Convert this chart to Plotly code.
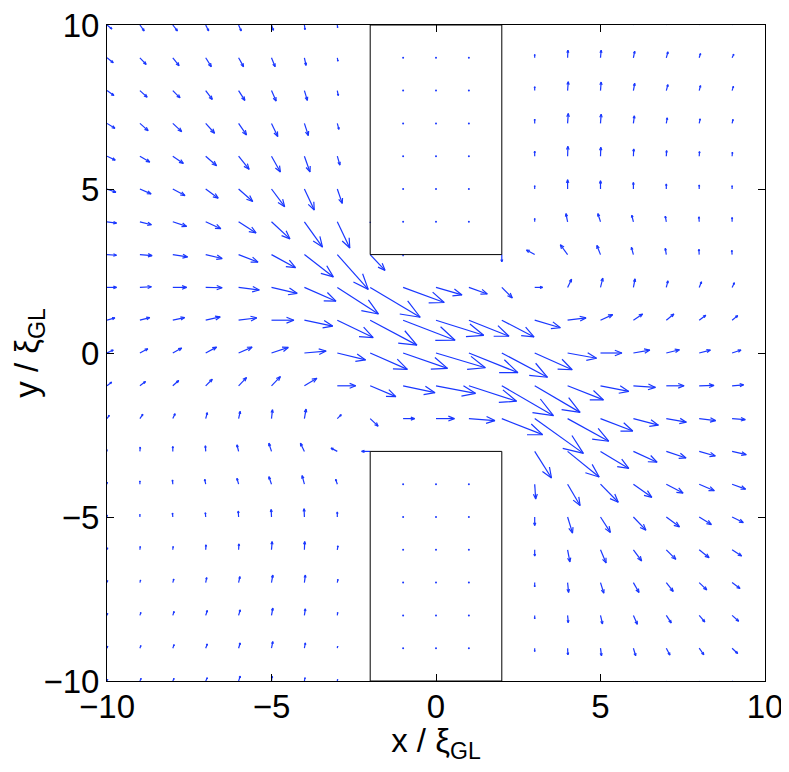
import plotly.graph_objects as go

# grid
X_VALUES = list(range(-10, 10))          # -10 .. 9
Y_VALUES = list(range(10, -11, -1))      # 10 .. -10 (rows, top to bottom)

# vector components, one row per y value (top to bottom), columns x=-10..9
U_ROWS = [
    [.15, .13, .14, .09, .08, .06, .02, .01, 0, 0, 0, 0, 0, 0, .01, .02, .04, .05, .04, .05],
    [.19, .19, .19, .17, .15, .11, .05, .02, 0, 0, 0, 0, 0, 0, .01, .02, .04, .05, .04, .05],
    [.21, .22, .22, .20, .19, .14, .09, .03, 0, 0, 0, 0, 0, 0, .02, .02, .04, .05, .04, .04],
    [.24, .25, .27, .27, .24, .19, .12, .05, 0, 0, 0, 0, 0, 0, .02, .02, .03, .03, .03, .03],
    [.25, .30, .32, .33, .32, .27, .17, .08, 0, 0, 0, 0, 0, 0, .01, .01, .01, .01, .01, .01],
    [.27, .34, .37, .38, .43, .40, .30, .15, 0, 0, 0, 0, 0, 0, 0, 0, 0, 0, 0, 0],
    [.29, .35, .42, .46, .53, .56, .55, .38, 0, 0, 0, 0, 0, 0, -.05, -.08, -.05, -.03, -.01, 0],
    [.29, .37, .45, .50, .59, .73, .88, .94, .45, 0, 0, 0, 0, -.25, -.22, -.11, -.06, -.03, -.01, -.01],
    [.29, .35, .42, .50, .63, .78, .96, 1.25, 1.52, 1.25, .79, .56, .32, .24, .12, .07, .05, .05, .07, .07],
    [.24, .30, .36, .44, .55, .68, .86, 1.09, 1.42, 1.58, 1.45, 1.22, .98, .78, .56, .37, .28, .23, .20, .17],
    [.19, .24, .27, .33, .41, .51, .66, .86, 1.13, 1.35, 1.50, 1.49, 1.39, 1.14, .88, .65, .50, .40, .34, .27],
    [.14, .17, .18, .20, .24, .27, .38, .56, .78, .97, 1.20, 1.45, 1.57, 1.38, 1.09, .86, .67, .54, .45, .35],
    [.07, .09, .07, .05, .05, .03, .05, .12, .24, .35, .56, .79, 1.24, 1.48, 1.25, .98, .76, .61, .50, .40],
    [0, .01, 0, -.01, -.05, -.08, -.12, -.19, -.26, 0, 0, 0, 0, .51, .96, .86, .72, .60, .49, .43],
    [.01, 0, -.01, -.03, -.05, -.08, -.07, -.05, 0, 0, 0, 0, 0, .03, .38, .54, .56, .51, .46, .41],
    [.01, 0, -.01, -.01, -.01, -.01, -.01, 0, 0, 0, 0, 0, 0, 0, .15, .30, .38, .40, .37, .34],
    [.02, .01, .01, .01, .01, .02, .01, .02, 0, 0, 0, 0, 0, 0, .07, .17, .25, .29, .30, .29],
    [.02, .02, .03, .03, .04, .04, .03, .02, 0, 0, 0, 0, 0, 0, .03, .10, .17, .21, .23, .24],
    [.02, .03, .04, .05, .05, .04, .03, .01, 0, 0, 0, 0, 0, 0, .02, .06, .12, .15, .17, .20],
    [.02, .03, .04, .05, .05, .04, .03, .01, 0, 0, 0, 0, 0, 0, .01, .03, .07, .11, .14, .17],
    [.02, .04, .04, .05, .05, .02, .02, .01, 0, 0, 0, 0, 0, 0, 0, .02, .05, .09, .12, .15],
]
V_ROWS = [
    [-.12, -.18, -.18, -.18, -.18, -.16, -.14, -.08, 0, 0, 0, 0, 0, .08, .20, .20, .18, .16, .12, .10],
    [-.15, -.20, -.24, -.27, -.27, -.27, -.23, -.10, 0, 0, 0, 0, 0, .10, .23, .23, .20, .18, .13, .11],
    [-.15, -.20, -.22, -.27, -.30, -.32, -.30, -.15, 0, 0, 0, 0, 0, .12, .27, .26, .22, .18, .15, .13],
    [-.15, -.22, -.25, -.30, -.35, -.40, -.37, -.18, 0, 0, 0, 0, 0, .13, .30, .28, .23, .17, .14, .12],
    [-.12, -.18, -.22, -.29, -.40, -.48, -.48, -.27, 0, 0, 0, 0, 0, .15, .30, .27, .22, .17, .14, .12],
    [-.10, -.15, -.20, -.28, -.38, -.54, -.64, -.44, 0, 0, 0, 0, 0, .10, .28, .25, .20, .15, .12, .10],
    [-.04, -.09, -.14, -.21, -.34, -.52, -.77, -.80, -.03, 0, 0, 0, 0, .10, .25, .25, .20, .17, .15, .13],
    [-.02, -.03, -.07, -.12, -.23, -.40, -.68, -1.06, -.48, -.04, 0, 0, -.22, .14, .30, .28, .22, .19, .16, .13],
    [0, .02, 0, -.01, -.08, -.18, -.42, -.81, -.91, -.46, -.23, -.20, -.32, 0, .25, .28, .26, .20, .17, .14],
    [.07, .08, .08, .10, .07, 0, -.18, -.53, -.76, -.61, -.46, -.49, -.51, -.23, .07, .17, .19, .19, .15, .14],
    [.09, .13, .15, .18, .18, .17, .06, -.21, -.50, -.47, -.45, -.60, -.74, -.51, -.16, 0, .09, .10, .09, .09],
    [.11, .13, .16, .20, .25, .28, .23, 0, -.33, -.21, -.23, -.47, -.91, -.81, -.43, -.17, -.05, 0, .01, .03],
    [.10, .13, .15, .18, .22, .27, .29, .12, -.23, 0, 0, -.06, -.49, -1.06, -.69, -.38, -.20, -.11, -.06, -.03],
    [.05, .13, .15, .17, .20, .25, .25, .10, 0, 0, 0, 0, 0, -.81, -.78, -.52, -.33, -.20, -.14, -.10],
    [.06, .10, .13, .15, .18, .23, .26, .15, 0, 0, 0, 0, 0, -.45, -.65, -.55, -.40, -.27, -.20, -.15],
    [.06, .08, .12, .13, .18, .23, .25, .15, 0, 0, 0, 0, 0, -.26, -.49, -.47, -.40, -.30, -.23, -.17],
    [.06, .10, .10, .15, .18, .25, .25, .12, 0, 0, 0, 0, 0, -.19, -.37, -.40, -.34, -.29, -.24, -.19],
    [.06, .08, .11, .15, .18, .23, .23, .10, 0, 0, 0, 0, 0, -.13, -.30, -.32, -.30, -.27, -.22, -.18],
    [.06, .09, .12, .15, .17, .22, .20, .09, 0, 0, 0, 0, 0, -.10, -.22, -.26, -.27, -.23, -.20, -.18],
    [.06, .08, .11, .13, .16, .20, .16, .06, 0, 0, 0, 0, 0, -.10, -.20, -.23, -.23, -.21, -.20, -.16],
    [.05, .08, .08, .10, .15, .15, .10, .05, 0, 0, 0, 0, 0, -.08, -.18, -.20, -.20, -.19, -.18, -.15],
]

# obstacle outlines (x span, y spans)
OBSTACLE_X = [-2, 2]
OBSTACLE_TOP_Y = [3, 10]
OBSTACLE_BOTTOM_Y = [-10, -3]

TICKS = [-10, -5, 0, 5, 10]
TICK_TEXT = ["\u221210", "\u22125", "0", "5", "10"]

ARROW_COLOR = "rgb(25,55,255)"
ALPHA, BETA = 0.33, 0.40   # arrow-head length / half-width proportions

xs, ys = [], []
dot_x, dot_y = [], []
for i, y0 in enumerate(Y_VALUES):
    for j, x0 in enumerate(X_VALUES):
        u = U_ROWS[i][j]
        v = V_ROWS[i][j]
        if u == 0 and v == 0:
            inside = (OBSTACLE_X[0] < x0 < OBSTACLE_X[1]) and (
                OBSTACLE_TOP_Y[0] < y0 < OBSTACLE_TOP_Y[1]
                or OBSTACLE_BOTTOM_Y[0] < y0 < OBSTACLE_BOTTOM_Y[1])
            if inside:
                dot_x.append(x0)
                dot_y.append(y0)
            continue
        x1, y1 = x0 + u, y0 + v
        xs += [x0, x1, None]
        ys += [y0, y1, None]
        xs += [x1 - ALPHA * (u + BETA * v), x1, x1 - ALPHA * (u - BETA * v), None]
        ys += [y1 - ALPHA * (v - BETA * u), y1, y1 - ALPHA * (v + BETA * u), None]

fig = go.Figure()
fig.add_trace(go.Scatter(x=xs, y=ys, mode="lines",
                         line=dict(color=ARROW_COLOR, width=1.2),
                         hoverinfo="skip", showlegend=False))
fig.add_trace(go.Scatter(x=dot_x, y=dot_y, mode="markers",
                         marker=dict(color=ARROW_COLOR, size=2),
                         hoverinfo="skip", showlegend=False))

for ys_span in (OBSTACLE_TOP_Y, OBSTACLE_BOTTOM_Y):
    bx = [OBSTACLE_X[0], OBSTACLE_X[0], OBSTACLE_X[1], OBSTACLE_X[1], OBSTACLE_X[0]]
    by = [ys_span[0], ys_span[1], ys_span[1], ys_span[0], ys_span[0]]
    fig.add_trace(go.Scatter(x=bx, y=by, mode="lines",
                             line=dict(color="black", width=1),
                             hoverinfo="skip", showlegend=False))

FONT = "Liberation Sans, Arial, Helvetica, sans-serif"
axis_common = dict(
    range=[-10, 10], showgrid=False, zeroline=False,
    showline=True, linecolor="black", linewidth=1, mirror="ticks",
    ticks="inside", ticklen=7, tickcolor="black", tickwidth=1,
    tickvals=TICKS, ticktext=TICK_TEXT, ticklabeloverflow="allow",
    tickfont=dict(family=FONT, size=33, color="black"),
    automargin=False,
)
fig.update_layout(
    width=773, height=756,
    margin=dict(l=99, r=16, t=17, b=83),
    plot_bgcolor="white", paper_bgcolor="white",
    font=dict(family=FONT, color="black"),
    xaxis=dict(**axis_common, ticklabelstandoff=-4,
               title=dict(text="x / \u03be<sub>GL</sub>",
                          font=dict(family=FONT, size=33), standoff=2)),
    yaxis=dict(**axis_common,
               title=dict(text="y / \u03be<sub>GL</sub>",
                          font=dict(family=FONT, size=33), standoff=2)),
)
fig.write_html("out.html")
